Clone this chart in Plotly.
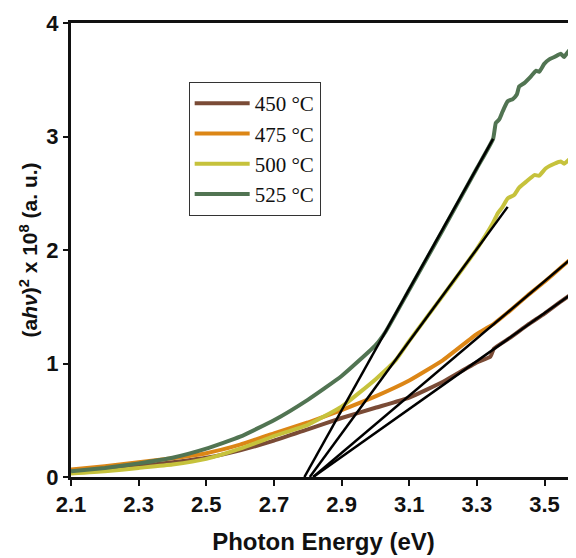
import plotly.graph_objects as go

# ---------------- data ----------------
series_names = ["450 °C", "475 °C", "500 °C", "525 °C"]
series_colors = ["#7a4b36", "#dc8616", "#c6c23c", "#517452"]

e_450 = [2.10, 2.20, 2.30, 2.40, 2.50, 2.60, 2.70, 2.80, 2.90, 3.00, 3.10, 3.20, 3.30, 3.34,
         3.35, 3.40, 3.45, 3.50, 3.55, 3.593]
v_450 = [0.04, 0.065, 0.095, 0.13, 0.17, 0.235, 0.32, 0.42, 0.52, 0.61, 0.70, 0.84, 1.01, 1.06,
         1.13, 1.23, 1.34, 1.44, 1.55, 1.64]

e_475 = [2.10, 2.20, 2.30, 2.40, 2.50, 2.60, 2.70, 2.80, 2.90, 3.00, 3.10, 3.20, 3.30, 3.328,
         3.35, 3.40, 3.45, 3.50, 3.55, 3.593]
v_475 = [0.065, 0.095, 0.13, 0.165, 0.21, 0.285, 0.385, 0.48, 0.59, 0.71, 0.85, 1.03, 1.26, 1.31,
         1.35, 1.47, 1.60, 1.72, 1.85, 1.96]

e_500 = [2.10, 2.20, 2.30, 2.40, 2.50, 2.60, 2.70, 2.80, 2.90, 3.00, 3.06, 3.10, 3.20, 3.30,
         3.347, 3.361, 3.376, 3.391, 3.41, 3.425, 3.445, 3.47, 3.484, 3.504, 3.529, 3.548,
         3.558, 3.578, 3.593]
v_500 = [0.03, 0.05, 0.08, 0.11, 0.16, 0.25, 0.36, 0.46, 0.62, 0.86, 1.03, 1.20, 1.60, 2.01,
         2.235, 2.32, 2.38, 2.455, 2.485, 2.55, 2.60, 2.66, 2.655, 2.72, 2.76, 2.78,
         2.76, 2.81, 2.81]

e_525 = [2.10, 2.20, 2.30, 2.40, 2.50, 2.60, 2.70, 2.80, 2.90, 3.00, 3.03, 3.10, 3.20, 3.30,
         3.348, 3.356, 3.366, 3.376, 3.391, 3.406, 3.418, 3.425, 3.44, 3.46, 3.475, 3.484,
         3.499, 3.514, 3.529, 3.548, 3.558, 3.573, 3.593]
v_525 = [0.05, 0.08, 0.12, 0.17, 0.25, 0.355, 0.50, 0.68, 0.89, 1.16, 1.28, 1.65, 2.18, 2.72,
         2.98, 3.12, 3.15, 3.22, 3.31, 3.33, 3.37, 3.44, 3.47, 3.53, 3.58, 3.57,
         3.64, 3.68, 3.70, 3.73, 3.70, 3.76, 3.76]

# linear (Tauc) fits: x-intercept and end point
fit_x = [[2.816, 3.593], [2.816, 3.593], [2.806, 3.391], [2.790, 3.348]]
fit_y = [[0.0, 1.64], [0.0, 1.96], [0.0, 2.38], [0.0, 2.98]]

x_ticks = [2.1, 2.3, 2.5, 2.7, 2.9, 3.1, 3.3, 3.5]
x_tick_labels = ["2.1", "2.3", "2.5", "2.7", "2.9", "3.1", "3.3", "3.5"]
y_ticks = [0, 1, 2, 3, 4]
y_tick_labels = ["0", "1", "2", "3", "4"]

# ---------------- figure ----------------
fig = go.Figure()
energies = [e_450, e_475, e_500, e_525]
values = [v_450, v_475, v_500, v_525]
for name, col, ex, vy in zip(series_names, series_colors, energies, values):
    fig.add_trace(go.Scatter(x=ex, y=vy, mode="lines", name=name,
                             line=dict(color=col, width=4, shape="spline", smoothing=0.4)))
for fx, fy in zip(fit_x, fit_y):
    fig.add_trace(go.Scatter(x=fx, y=fy, mode="lines", showlegend=False,
                             line=dict(color="black", width=2.5), hoverinfo="skip"))

axis_font = dict(family="Liberation Sans, Arial, sans-serif", size=22, color="#111", weight="bold")
# the page body adds an 8px offset; margins compensate for it
fig.update_layout(
    width=576, height=558,
    margin=dict(l=63, r=8, t=15, b=89, autoexpand=False),
    paper_bgcolor="white", plot_bgcolor="white",
    showlegend=True,
    legend=dict(x=0.233, y=0.870, xanchor="left", yanchor="top",
                bordercolor="#333", borderwidth=1, bgcolor="white",
                itemwidth=55,
                font=dict(family="Liberation Serif, Times New Roman, serif", size=21, color="#111"),
                tracegroupgap=0),
    xaxis=dict(range=[2.1, 3.593], tickvals=x_ticks, ticktext=x_tick_labels, automargin=False,
               showline=True, linecolor="#111", linewidth=3, mirror=True,
               ticks="outside", ticklen=6, tickwidth=1.5, tickcolor="#111",
               showgrid=False, zeroline=False, tickfont=axis_font,
               title=dict(text="Photon Energy (eV)", standoff=17,
                          font=dict(family="Liberation Sans, Arial, sans-serif", size=24,
                                    color="#111", weight="bold"))),
    yaxis=dict(range=[0, 4], tickvals=y_ticks, ticktext=y_tick_labels, automargin=False,
               showline=True, linecolor="#111", linewidth=3,
               ticks="outside", ticklen=5, tickwidth=1.5, tickcolor="#111",
               showgrid=False, zeroline=False, tickfont=axis_font,
               title=dict(text="(a<i>hν</i>)<sup>2</sup> x 10<sup>8</sup> (a. u.)", standoff=3,
                          font=dict(family="Liberation Sans, Arial, sans-serif", size=21,
                                    color="#111", weight="bold"))),
)

fig.write_html("out.html")
